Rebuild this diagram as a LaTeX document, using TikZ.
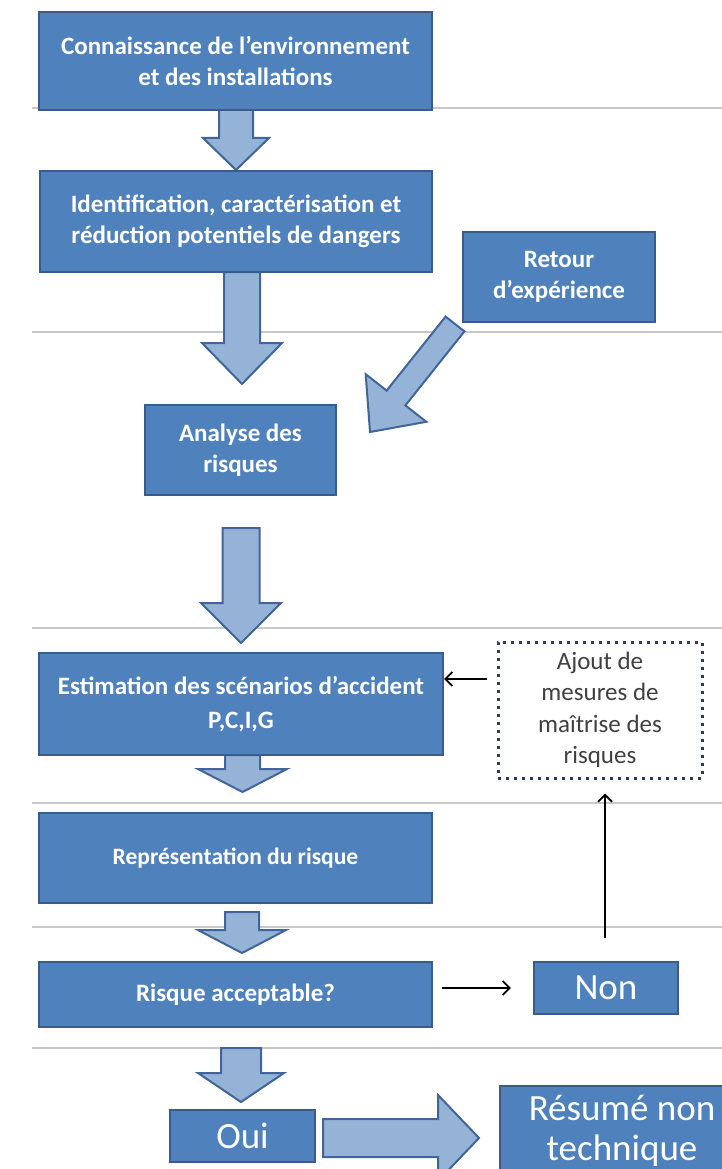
\documentclass[tikz,border=0pt]{standalone}
\usepackage{fontspec}
\setmainfont{Carlito}
\usetikzlibrary{arrows.meta,calc}
\definecolor{boxfill}{HTML}{4F81BD}
\definecolor{boxdraw}{HTML}{385D8A}
\definecolor{arrfill}{HTML}{95B3D7}
\definecolor{arrdraw}{HTML}{41649A}
\definecolor{sepgrey}{HTML}{C8C8C8}
\definecolor{dotblue}{HTML}{2A3A5C}
\definecolor{ajouttext}{HTML}{404040}
\newcommand{\myvarrow}[6]{% centre x, shaft half width, head half width, top y, head y, tip y
  \filldraw[blockarrow] (#1-#2,#4) -- (#1+#2,#4) -- (#1+#2,#5) -- (#1+#3,#5) -- (#1,#6) -- (#1-#3,#5) -- (#1-#2,#5) -- cycle;}
\begin{document}
\begin{tikzpicture}[x=1pt,y=-1pt,
  bbox/.style={draw=boxdraw, fill=boxfill, line width=2.2pt, text=white, align=center, inner sep=0pt, rectangle,
    font=\bfseries\fontsize{25}{31}\selectfont},
  bigbox/.style={bbox, font=\fontsize{37}{40}\selectfont},
  dotbox/.style={draw=dotblue, line width=3pt, dash pattern=on 3pt off 5pt, align=center, inner sep=0pt,
    text=ajouttext, font=\fontsize{25}{31.5}\selectfont},
  blockarrow/.style={fill=arrfill, draw=arrdraw, line width=2pt, line join=miter},
  sepline/.style={draw=sepgrey, line width=1.2pt},
  thinarr/.style={draw=black, line width=1.8pt, -{Straight Barb[length=7pt,width=14pt,line width=1.8pt]}}]
\useasboundingbox (0,0) rectangle (722,1169);
\clip (0,0) rectangle (722,1169);
\fill[white] (0,0) rectangle (722,1169);

% separator lines
\foreach \yy in {108,332,628,803,927,1048} \draw[sepline] (32,\yy) -- (722,\yy);

% block arrows
\myvarrow{236}{17}{33}{110}{138}{170}
\myvarrow{242}{18}{40}{272}{343}{384}
\myvarrow{241}{18.5}{40}{528}{603}{643}
\myvarrow{242.5}{17.5}{44.5}{755}{769}{792}
\myvarrow{242}{17}{44}{912}{930}{953}
\myvarrow{241}{20}{43}{1048}{1073}{1102}
% diagonal arrow from "Retour d'expérience"
\filldraw[blockarrow] (464.4,331.4) -- (405.4,405.4) -- (426.3,421.8) -- (370,432) -- (365.7,374.2) -- (386.6,390.6) -- (445.6,316.6) -- cycle;
% horizontal arrow Oui -> Résumé
\filldraw[blockarrow] (323,1119) -- (438,1119) -- (438,1095) -- (479,1138) -- (438,1181) -- (438,1157) -- (323,1157) -- cycle;

% boxes
\node[bbox, minimum width=393pt, minimum height=98pt] (b1) at (235.5,61) {Connaissance de l’environnement\\et des installations};
\node[bbox, minimum width=392pt, minimum height=101pt] (b2) at (236,221.5) {Identification, caractérisation et\\réduction potentiels de dangers};
\node[bbox, minimum width=192pt, minimum height=90pt] (retour) at (559,277) {Retour\\d’expérience};
\node[bbox, minimum width=191pt, minimum height=90pt] (analyse) at (240.5,450) {Analyse des\\risques};
\node[bbox, minimum width=404pt, minimum height=102pt, font=\bfseries\fontsize{25}{34}\selectfont] (est) at (241,704) {Estimation des scénarios d’accident\\P,C,I,G};
\node[dotbox, minimum width=204pt, minimum height=136pt] (ajout) at (600,710) {Ajout de\\mesures de\\maîtrise des\\risques};
\node[bbox, minimum width=393pt, minimum height=90pt, font=\bfseries\fontsize{23.5}{31}\selectfont] (rep) at (235.5,858) {Représentation du risque};
\node[bbox, minimum width=393pt, minimum height=65pt] (risk) at (235.5,994.5) {Risque acceptable?};
\node[bigbox, minimum width=144pt, minimum height=52pt] (non) at (606,988) {Non};
\node[bigbox, minimum width=145pt, minimum height=52pt] (oui) at (242.5,1136) {Oui};
\node[bigbox, minimum width=244pt, inner ysep=9pt, anchor=north] (resume) at (622,1085) {Résumé non\\technique};

% thin connectors
\coordinate (ajoutout) at (487,679);
\draw[thinarr] (ajoutout) -- (est.east |- ajoutout);
\coordinate (nonup) at (605,938);
\draw[thinarr, shorten >=14pt] (nonup) -- (nonup |- ajout.south);
\draw[thinarr, shorten <=9pt, shorten >=22pt] (risk.east |- non.west) -- (non.west);
\end{tikzpicture}
\end{document}
